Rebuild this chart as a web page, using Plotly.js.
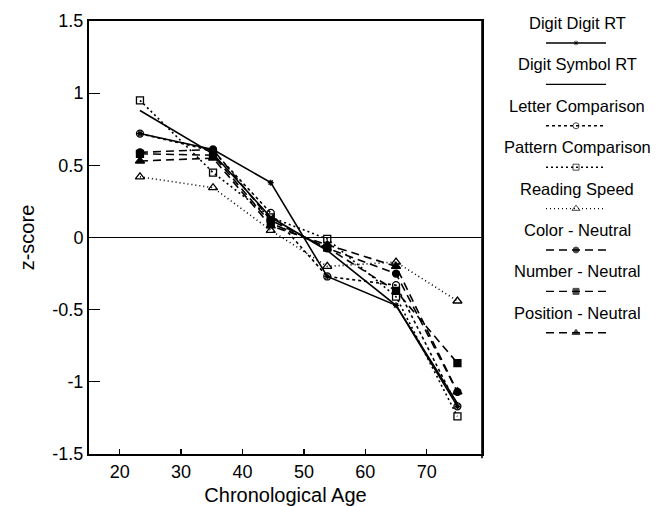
<!DOCTYPE html>
<html>
<head>
<meta charset="utf-8">
<script src="https://cdn.plot.ly/plotly-3.0.1.min.js"></script>
<style>html,body{margin:0;padding:0;background:#fff;}#chart{width:661px;height:506px;}</style>
</head>
<body>
<div id="chart"></div>
<script>
// ---- data ----
const ages = [23.3, 35.2, 44.6, 53.8, 65, 75];
const seriesNames = ['Digit Digit RT','Digit Symbol RT','Letter Comparison','Pattern Comparison','Reading Speed','Color - Neutral','Number - Neutral','Position - Neutral'];
const digitDigitRT     = [0.72, 0.61, 0.38, -0.27, -0.47, -1.17];
const digitSymbolRT    = [0.88, 0.58, 0.14, -0.09, -0.47, -1.15];
const letterComparison = [0.72, 0.60, 0.17, -0.27, -0.33, -1.17];
const patternComparison= [0.95, 0.45, 0.14, -0.01, -0.41, -1.24];
const readingSpeed     = [0.42, 0.345, 0.05, -0.20, -0.17, -0.44];
const colorNeutral     = [0.59, 0.61, 0.12, -0.075, -0.25, -1.07];
const numberNeutral    = [0.58, 0.57, 0.10, -0.07, -0.37, -0.87];
const positionNeutral  = [0.53, 0.55, 0.08, -0.05, -0.20, -1.07];
const xTickVals = [20, 30, 40, 50, 60, 70];
const yTickVals = [-1.5, -1, -0.5, 0, 0.5, 1, 1.5];
const yTickText = ['-1.5', '-1', '-0.5', '0', '0.5', '1', '1.5'];

// ---- styles ----
const allValues = [digitDigitRT, digitSymbolRT, letterComparison, patternComparison, readingSpeed, colorNeutral, numberNeutral, positionNeutral];
const styles = [
  {dash:'solid', symbol:'asterisk-open', size:5},
  {dash:'solid', symbol:null, size:0},
  {dash:'3px,3px', symbol:'circle-open', size:7},
  {dash:'2px,3px', symbol:'square-open', size:7},
  {dash:'1px,3px', symbol:'triangle-up-open', size:8},
  {dash:'8px,5px', symbol:'circle', size:7},
  {dash:'8px,5px', symbol:'square', size:7},
  {dash:'8px,5px', symbol:'triangle-up', size:8}
];

const traces = [];
allValues.forEach((vals, i) => {
  const s = styles[i];
  const t = {
    x: ages, y: vals, type: 'scatter',
    mode: s.symbol ? 'lines+markers' : 'lines',
    name: seriesNames[i],
    line: {color: '#000', width: 1.6, dash: s.dash},
    showlegend: false, hoverinfo: 'skip'
  };
  if (s.symbol) t.marker = {symbol: s.symbol, size: s.size, color: '#000', line: {color: '#000', width: 1.3}};
  traces.push(t);
  // legend sample on auxiliary axes
  const L = {
    x: [0, 1, 2], y: [i, i, i], type: 'scatter',
    xaxis: 'x2', yaxis: 'y2',
    mode: s.symbol ? 'lines+markers' : 'lines',
    line: {color: '#000', width: 1.4, dash: s.dash},
    showlegend: false, hoverinfo: 'skip'
  };
  if (s.symbol) L.marker = {symbol: s.symbol, size: [0, s.size - 1, 0], color: '#000', line: {color: '#000', width: 1}};
  traces.push(L);
});

const W = 661, H = 506;
const mL = 89, mR = 0, mT = 21, mB = 52;
const plotW = W - mL - mR;
const xDomEnd = (482 - mL) / plotW;
const legX0 = (546 - mL) / plotW, legX1 = (606 - mL) / plotW;
const legCenter = (577 - mL) / plotW;

const annotations = seriesNames.map((n, i) => ({
  text: n, xref: 'paper', yref: 'y2', x: legCenter, y: i,
  xanchor: 'center', yanchor: 'middle', yshift: 20, showarrow: false,
  font: {family: 'Liberation Sans, Arial, sans-serif', size: 16.5, color: '#000'}
}));

const font = {family: 'Liberation Sans, Arial, sans-serif', color: '#000'};
const layout = {
  width: W, height: H,
  margin: {l: mL, r: mR, t: mT, b: mB},
  paper_bgcolor: '#fff', plot_bgcolor: '#fff',
  font: font,
  showlegend: false,
  xaxis: {
    domain: [0, xDomEnd], range: [15, 79],
    tickvals: xTickVals, ticks: 'inside', ticklen: 5, tickwidth: 1.3, tickcolor: '#000',
    showline: true, linecolor: '#000', linewidth: 2, mirror: true,
    showgrid: false, zeroline: false,
    tickfont: {size: 18, family: font.family, color: '#000'},
    title: {text: 'Chronological Age', font: {size: 20, family: font.family, color: '#000'}, standoff: 8}
  },
  yaxis: {
    range: [-1.5, 1.5],
    tickvals: yTickVals, ticktext: yTickText, ticks: 'inside', ticklen: 11, tickwidth: 1.3, tickcolor: '#000',
    showline: true, linecolor: '#000', linewidth: 2, mirror: true,
    showgrid: false, zeroline: true, zerolinecolor: '#000', zerolinewidth: 1.6,
    tickfont: {size: 18, family: font.family, color: '#000'},
    title: {text: 'z-score', font: {size: 20, family: font.family, color: '#000'}, standoff: 12}
  },
  xaxis2: {domain: [legX0, legX1], range: [0, 2], visible: false, anchor: 'y2', fixedrange: true},
  yaxis2: {domain: [0, 1], range: [9.928, -0.531], visible: false, anchor: 'x2', fixedrange: true},
  annotations: annotations,
  shapes: [
    {type: 'line', xref: 'paper', yref: 'paper', x0: xDomEnd, x1: xDomEnd, y0: -0.01, y1: 1.0, line: {color: '#000', width: 1.6}}
  ]
};

Plotly.newPlot('chart', traces, layout, {displayModeBar: false, staticPlot: true});
</script>
</body>
</html>
